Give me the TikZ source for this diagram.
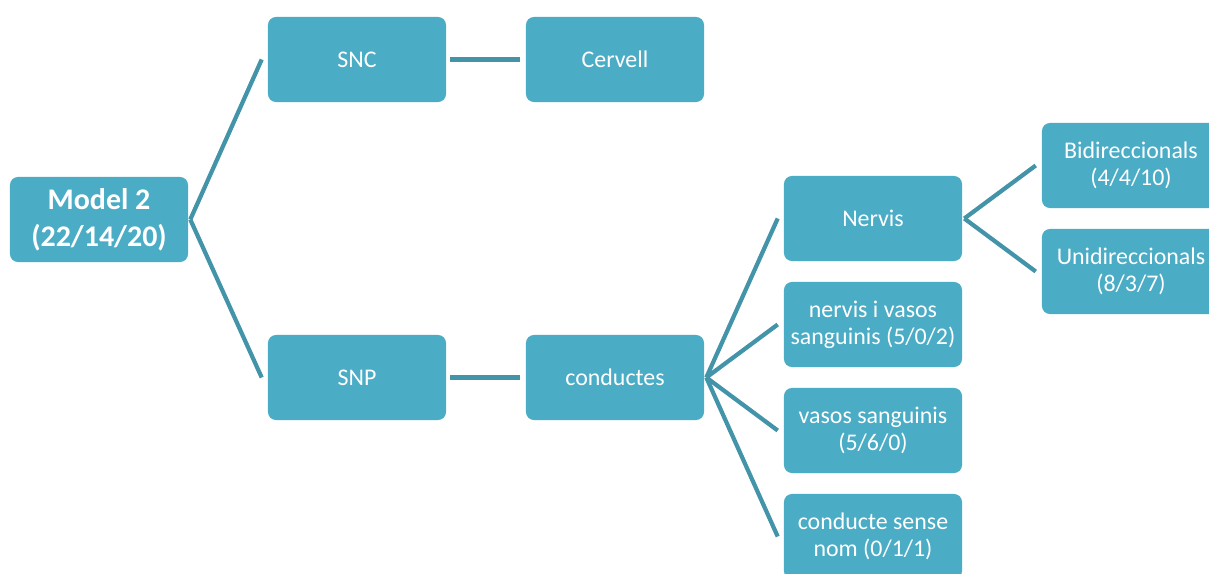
\documentclass[tikz,border=0pt]{standalone}
\usepackage{fontspec}
\setmainfont{Carlito}
\usetikzlibrary{positioning}

\definecolor{boxfill}{HTML}{4BACC6}
\definecolor{linkline}{HTML}{4393A9}

\begin{document}
\begin{tikzpicture}[x=0.025cm,y=-0.025cm,
    box/.style={fill=boxfill,rounded corners=0.2cm,minimum width=4.45cm,minimum height=2.125cm,
      inner sep=1pt,align=center,text=white,font=\fontsize{17}{19.4}\selectfont},
    link/.style={draw=linkline,line width=3pt}]
      \clip (0,0) rectangle (1209,573);
      % boxes
      \node[box,font=\bfseries\fontsize{21.3}{26.5}\selectfont] (model) at (99,219.5) {Model 2\\(22/14/20)};
      \node[box] (snc) at (357,59.5) {SNC};
      \node[box] (cervell) at (615,59.5) {Cervell};
      \node[box] (snp) at (357,377.5) {SNP};
      \node[box] (conductes) at (615,377.5) {conductes};
      \node[box] (nervis) at (873,218.5) {Nervis};
      \node[box] (nervvasos) at (873,324.5) {nervis i vasos\\sanguinis (5/0/2)};
      \node[box] (vasos) at (873,430.5) {vasos sanguinis\\(5/6/0)};
      \node[box] (sensenom) at (873,536.5) {conducte sense\\nom (0/1/1)};
      \node[box] (bidir) at (1131,165.5) {Bidireccionals\\(4/4/10)};
      \node[box] (unidir) at (1131,271.5) {Unidireccionals\\(8/3/7)};
      % connectors
      \draw[link] ([xshift=0.05cm]model.east) -- ([xshift=-0.15cm]snc.west);
      \draw[link] ([xshift=0.05cm]model.east) -- ([xshift=-0.15cm]snp.west);
      \draw[link] ([xshift=0.1cm]snc.east) -- ([xshift=-0.15cm]cervell.west);
      \draw[link] ([xshift=0.1cm]snp.east) -- ([xshift=-0.15cm]conductes.west);
      \foreach \leaf in {nervis,nervvasos,vasos,sensenom}
        \draw[link] ([xshift=0.05cm]conductes.east) -- ([xshift=-0.15cm]\leaf.west);
      \draw[link] ([xshift=0.05cm]nervis.east) -- ([xshift=-0.15cm]bidir.west);
      \draw[link] ([xshift=0.05cm]nervis.east) -- ([xshift=-0.15cm]unidir.west);
\end{tikzpicture}
\end{document}
